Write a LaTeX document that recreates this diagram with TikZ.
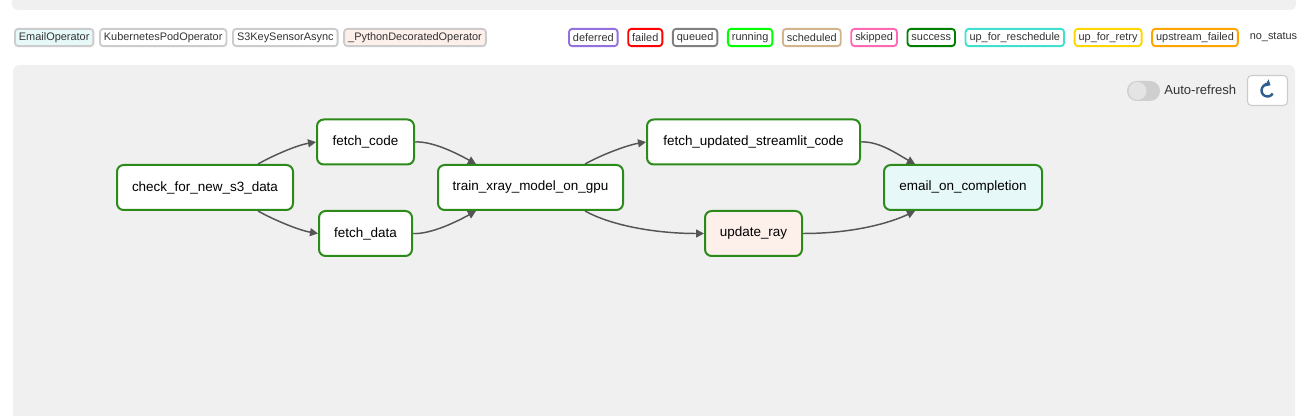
\documentclass[tikz,border=0pt]{standalone}
\usepackage{fontspec}
\setmainfont{Liberation Sans}
\usetikzlibrary{positioning,arrows.meta}

\definecolor{panelgrey}{HTML}{F0F0F0}
\definecolor{okgreen}{HTML}{2B8A1A}
\definecolor{edgegrey}{HTML}{555555}
\definecolor{emailfill}{HTML}{E6F8F7}
\definecolor{pyfill}{HTML}{FDEFEA}
\definecolor{keyline}{HTML}{CCCCCC}
\definecolor{keytext}{HTML}{333333}
\definecolor{iconblue}{HTML}{2F5E8E}
\definecolor{pillgrey}{HTML}{CFCFCF}
\definecolor{knobgrey}{HTML}{E4E4E4}
% state colours
\definecolor{deferredc}{HTML}{9370DB}
\definecolor{failedc}{HTML}{FF0000}
\definecolor{queuedc}{HTML}{808080}
\definecolor{runningc}{HTML}{00FF00}
\definecolor{scheduledc}{HTML}{D2B48C}
\definecolor{skippedc}{HTML}{FF69B4}
\definecolor{successc}{HTML}{008000}
\definecolor{rescheduc}{HTML}{40E0D0}
\definecolor{retryc}{HTML}{FFD700}
\definecolor{upfailc}{HTML}{FFA500}

\tikzset{
  task/.style={draw=okgreen, line width=1.5pt, rounded corners=5pt, fill=white,
    minimum height=33.75pt, inner sep=0pt, font=\fontsize{10.1}{12}\selectfont},
  keybox/.style={rounded corners=2.5pt, line width=1.4pt, fill=white,
    minimum height=13pt, inner xsep=3pt, inner ysep=0pt, text=keytext,
    font=\fontsize{8.2}{10}\selectfont},
  opkey/.style={keybox, draw=keyline},
  statekey/.style={keybox, draw=#1},
  flow/.style={->, draw=edgegrey, line width=1.1pt},
}

\begin{document}
\begin{tikzpicture}[x=0.75pt, y=-0.75pt, >={Triangle[length=6pt,width=6pt]}]
  \useasboundingbox (0,0) rectangle (1308,416);
  \fill[white] (0,0) rectangle (1308,416);
  % grey bands
  \fill[panelgrey, rounded corners=4pt] (12,-20) rectangle (1296,10);
  \fill[panelgrey, rounded corners=5pt] (13,65) rectangle (1295,440);

  % operator legend
  \node[opkey, fill=emailfill, anchor=west] (emailop) at (14,37.5) {EmailOperator};
  \node[opkey, right=3.5pt of emailop] (podop) {KubernetesPodOperator};
  \node[opkey, right=3.5pt of podop] (s3op) {S3KeySensorAsync};
  \node[opkey, fill=pyfill, right=3.5pt of s3op] (pyop) {\_PythonDecoratedOperator};

  % state legend
  \node[statekey=deferredc, anchor=west] (deferred) at (568,37.5) {deferred};
  \node[statekey=failedc, right=6.5pt of deferred] (failed) {failed};
  \node[statekey=queuedc, right=6.5pt of failed] (queued) {queued};
  \node[statekey=runningc, right=6.5pt of queued] (running) {running};
  \node[statekey=scheduledc, right=6.5pt of running] (scheduled) {scheduled};
  \node[statekey=skippedc, right=6.5pt of scheduled] (skipped) {skipped};
  \node[statekey=successc, right=6.5pt of skipped] (success) {success};
  \node[statekey=rescheduc, right=6.5pt of success] (resched) {up\_for\_reschedule};
  \node[statekey=retryc, right=6.5pt of resched] (retry) {up\_for\_retry};
  \node[statekey=upfailc, right=6.5pt of retry] (upfail) {upstream\_failed};
  \node[keybox, fill=none, right=4.5pt of upfail] (nostatus) {no\_status};

  % toolbar
  \fill[pillgrey, rounded corners=7.4pt] (1127,81) rectangle (1160,101);
  \fill[knobgrey] (1137.5,91) circle (9);
  \node[anchor=west, inner sep=0pt, text=keytext, font=\fontsize{9.8}{12}\selectfont]
    (autorefresh) at (1164,90) {Auto-refresh};
  \node[draw=keyline, fill=white, line width=0.8pt, rounded corners=3pt,
    minimum width=30pt, minimum height=22.5pt] (refresh) at (1267.5,90.5) {};
  \begin{scope}[shift={(refresh.center)}, x=0.75pt, y=0.75pt]
    \draw[iconblue, line width=1.8pt, -{Triangle[length=3.5pt,width=6pt]}]
      (-30:6) arc (-30:-300:6);
  \end{scope}

  % tasks
  \node[task, minimum width=132pt] (check) at (205,187.5) {check\_for\_new\_s3\_data};
  \node[task, minimum width=72.75pt] (fetchcode) at (365.5,142) {fetch\_code};
  \node[task, minimum width=69.75pt] (fetchdata) at (365.5,233.5) {fetch\_data};
  \node[task, minimum width=138.75pt] (train) at (530.5,187.5) {train\_xray\_model\_on\_gpu};
  \node[task, minimum width=159.75pt] (fetchst) at (753.5,142) {fetch\_updated\_streamlit\_code};
  \node[task, minimum width=72.75pt, fill=pyfill] (updateray) at (753.5,233.5) {update\_ray};
  \node[task, minimum width=118.5pt, fill=emailfill] (email) at (963,187.5) {email\_on\_completion};

  % dependencies
  \draw[flow] ([xshift=39.75pt]check.north) .. controls +(18,-10) and +(-18,3) .. (fetchcode.west);
  \draw[flow] ([xshift=39.75pt]check.south) .. controls +(18,10) and +(-18,-3) .. (fetchdata.west);
  \draw[flow] (fetchcode.east) .. controls +(18,-1) and +(-18,-10) .. ([xshift=-40.9pt]train.north);
  \draw[flow] (fetchdata.east) .. controls +(18,1) and +(-18,10) .. ([xshift=-40.9pt]train.south);
  \draw[flow] ([xshift=40.9pt]train.north) .. controls +(18,-10) and +(-18,3) .. (fetchst.west);
  \draw[flow] ([xshift=40.9pt]train.south) .. controls +(25,14) and +(-50,0) .. (updateray.west);
  \draw[flow] (fetchst.east) .. controls +(18,-1) and +(-18,-10) .. ([xshift=-36pt]email.north);
  \draw[flow] (updateray.east) .. controls +(50,0) and +(-25,12) .. ([xshift=-36pt]email.south);
\end{tikzpicture}
\end{document}
